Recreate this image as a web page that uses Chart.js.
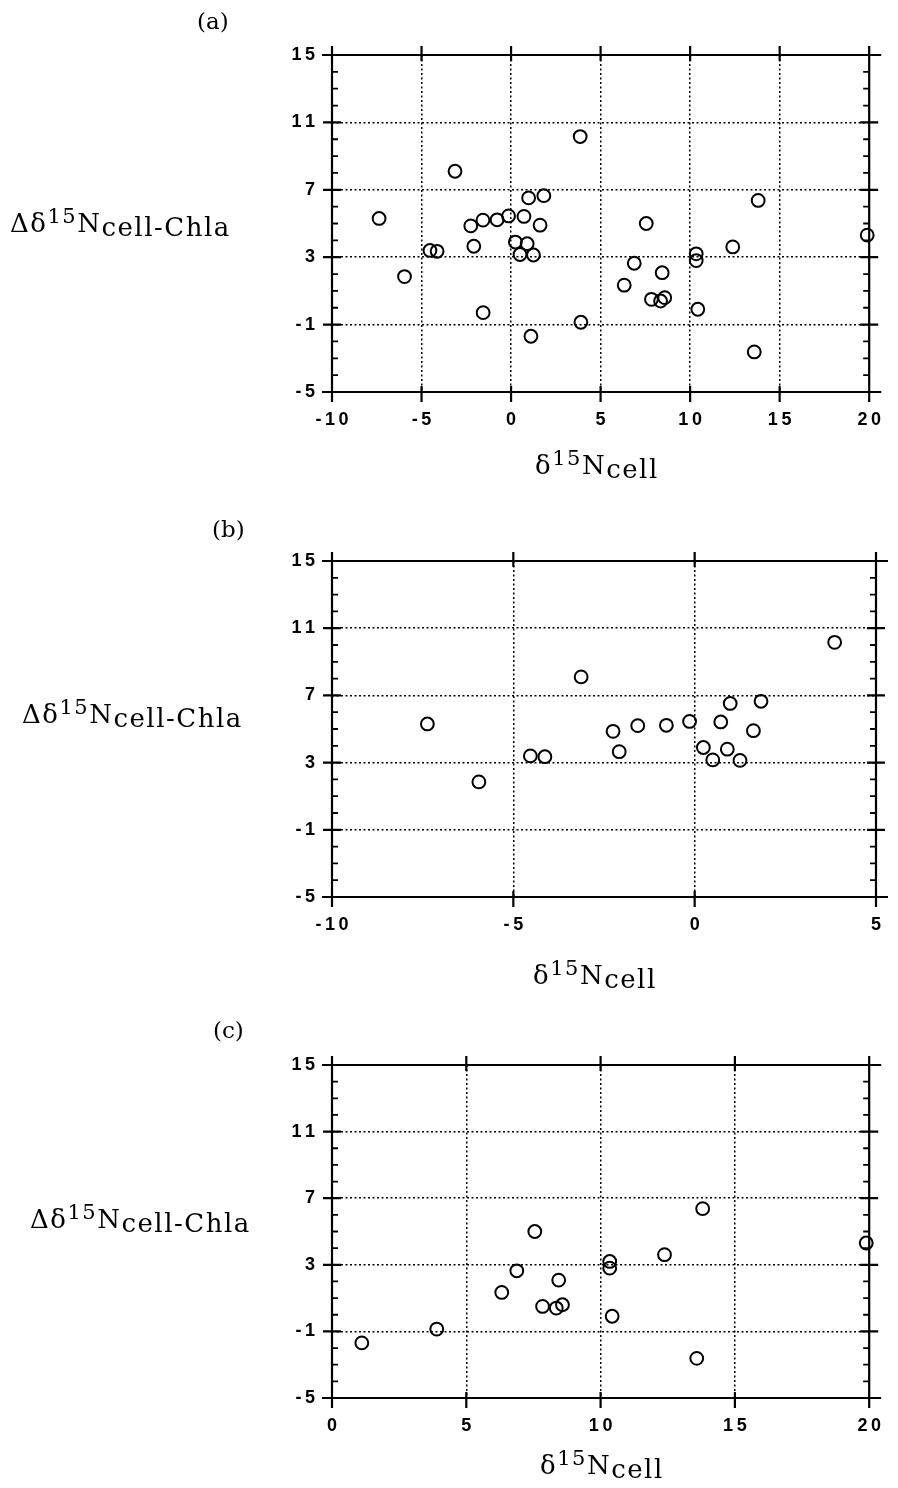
<!DOCTYPE html>
<html lang="en">
<head>
  <meta charset="UTF-8">
  <title>δ15N cell vs Δδ15N cell-Chla</title>
  <script src="https://cdn.jsdelivr.net/npm/chart.js"></script>
  <style>
    body { margin: 0; background: #fff; }
    #page { position: relative; width: 898px; height: 1488px; overflow: hidden; background: #fff; }
    #page canvas { position: absolute; left: 0; }
    .lbl { position: absolute; font-family: 'DejaVu Serif', serif; color: #000; white-space: nowrap; line-height: 1; }
    .panel { font-size: 23px; }
    .ttl { font-size: 26px; letter-spacing: 1.5px; }
    .ttl sup { font-size: 21px; vertical-align: 9px; line-height: 0; }
    .ttl sub { font-size: 26px; vertical-align: -4px; line-height: 0; }
  </style>
</head>
<body>
  <div id="page">
    <canvas id="chartA" width="898" height="480" style="top:0px"></canvas>
    <canvas id="chartB" width="898" height="480" style="top:506px"></canvas>
    <canvas id="chartC" width="898" height="480" style="top:1008px"></canvas>

    <div class="lbl panel" style="left:197px; top:10px">(a)</div>
    <div class="lbl panel" style="left:212px; top:518px">(b)</div>
    <div class="lbl panel" style="left:213px; top:1019px">(c)</div>

    <div class="lbl ttl" style="left:10px; top:210px">Δδ<sup>15</sup>N<sub>cell-Chla</sub></div>
    <div class="lbl ttl" style="left:22px; top:701px">Δδ<sup>15</sup>N<sub>cell-Chla</sub></div>
    <div class="lbl ttl" style="left:30px; top:1206px">Δδ<sup>15</sup>N<sub>cell-Chla</sub></div>

    <div class="lbl ttl" style="left:535px; top:452px">δ<sup>15</sup>N<sub>cell</sub></div>
    <div class="lbl ttl" style="left:533px; top:962px">δ<sup>15</sup>N<sub>cell</sub></div>
    <div class="lbl ttl" style="left:540px; top:1452px">δ<sup>15</sup>N<sub>cell</sub></div>
  </div>

  <script>
    // y axis shared by all three panels
    const yMin = -5;
    const yMax = 15;
    const yStep = 4;
    const xStep = 5;

    // panel (b) points (cells with negative / low δ15N)
    const bX = [-7.37, -5.95, -3.13, -4.53, -4.13, -2.25, -2.08, -1.57, -0.78, -0.14,
                0.24, 0.50, 0.72, 0.90, 0.98, 1.25, 1.62, 1.83, 3.86];
    const bY = [5.30, 1.85, 8.10, 3.40, 3.35, 4.86, 3.65, 5.20, 5.22, 5.45,
                3.90, 3.16, 5.42, 3.80, 6.52, 3.13, 4.90, 6.65, 10.16];

    // panel (c) points
    const cX = [1.11, 3.90, 7.55, 6.88, 6.32, 8.44, 7.84, 8.35, 8.58, 10.34,
                10.34, 10.43, 12.38, 13.80, 13.58, 19.89];
    const cY = [-1.69, -0.86, 5.00, 2.64, 1.34, 2.08, 0.50, 0.40, 0.60, 3.20,
                2.80, -0.09, 3.61, 6.37, -2.62, 4.31];

    // point only shown in panel (a)
    const onlyAX = [-1.56];
    const onlyAY = [-0.29];

    const aX = bX.concat(cX, onlyAX);
    const aY = bY.concat(cY, onlyAY);

    const toPoints = (xs, ys) => xs.map((x, i) => ({ x: x, y: ys[i] }));

    const panels = [
      { id: 'chartA', xs: aX, ys: aY, xMin: -10, xMax: 20, left: 332, right: 881, top: 55, bottom: 392 },
      { id: 'chartB', xs: bX, ys: bY, xMin: -10, xMax: 5,  left: 332, right: 880, top: 55, bottom: 391 },
      { id: 'chartC', xs: cX, ys: cY, xMin: 0,   xMax: 20, left: 332, right: 879, top: 57, bottom: 390 }
    ];

    // old typewriter look: digits spread apart, "- 1 0"
    const spaced = v => String(v).split('').join('\u2009');

    const framePlugin = {
      id: 'frame',
      afterDraw(chart) {
        const { ctx, chartArea, scales } = chart;
        const { left, right, top, bottom } = chartArea;
        const x = scales.x, y = scales.y;
        ctx.save();
        ctx.strokeStyle = '#000';
        ctx.lineWidth = 2.2;
        ctx.beginPath();
        ctx.moveTo(left - 10, top); ctx.lineTo(right + 12, top);
        ctx.moveTo(left - 10, bottom); ctx.lineTo(right + 12, bottom);
        ctx.moveTo(left, top - 9); ctx.lineTo(left, bottom + 10);
        ctx.moveTo(right, top - 9); ctx.lineTo(right, bottom + 10);
        y.ticks.forEach(t => {
          const py = y.getPixelForValue(t.value);
          ctx.moveTo(left - 9, py); ctx.lineTo(left + 9, py);
          ctx.moveTo(right - 9, py); ctx.lineTo(right + 9, py);
        });
        x.ticks.forEach(t => {
          const px = x.getPixelForValue(t.value);
          ctx.moveTo(px, bottom - 6); ctx.lineTo(px, bottom + 10);
          ctx.moveTo(px, top - 9); ctx.lineTo(px, top + 6);
        });
        ctx.stroke();

        // minor ticks every 1 unit on both vertical axes
        ctx.lineWidth = 1.8;
        ctx.beginPath();
        for (let v = y.min; v <= y.max; v += 1) {
          if ((v - y.min) % yStep === 0) continue;
          const py = y.getPixelForValue(v);
          ctx.moveTo(left, py); ctx.lineTo(left + 6, py);
          ctx.moveTo(right - 6, py); ctx.lineTo(right, py);
        }
        ctx.stroke();
        ctx.restore();
      }
    };

    function interiorOnly(min, max) {
      return c => (c.tick && (c.tick.value === min || c.tick.value === max)) ? 'rgba(0,0,0,0)' : '#000';
    }

    const tickFont = { family: 'Liberation Sans', size: 18, weight: 'bold' };

    panels.forEach(p => {
      const canvas = document.getElementById(p.id);
      const h = canvas.height;
      new Chart(canvas.getContext('2d'), {
        type: 'scatter',
        data: {
          datasets: [{
            data: toPoints(p.xs, p.ys),
            pointRadius: 6.4,
            pointBorderWidth: 2,
            pointBorderColor: '#000',
            pointBackgroundColor: 'rgba(0,0,0,0)',
            pointHoverRadius: 6.4,
            clip: false
          }]
        },
        options: {
          responsive: false,
          animation: false,
          devicePixelRatio: 1,
          layout: {
            padding: { left: 0, top: p.top, right: 898 - p.right, bottom: h - p.bottom - 50 }
          },
          plugins: { legend: { display: false }, tooltip: { enabled: false } },
          scales: {
            x: {
              type: 'linear',
              min: p.xMin,
              max: p.xMax,
              afterFit: s => { s.height = 50; },
              ticks: { stepSize: xStep, color: '#000', font: tickFont, padding: 17, maxRotation: 0, callback: spaced },
              grid: { color: interiorOnly(p.xMin, p.xMax), lineWidth: 1.5, drawTicks: false },
              border: { display: false, dash: [2, 2.5] }
            },
            y: {
              type: 'linear',
              min: yMin,
              max: yMax,
              afterFit: s => { s.width = p.left; },
              ticks: { stepSize: yStep, color: '#000', font: tickFont, padding: 17, callback: spaced },
              grid: { color: interiorOnly(yMin, yMax), lineWidth: 1.5, drawTicks: false },
              border: { display: false, dash: [2, 2.5] }
            }
          }
        },
        plugins: [framePlugin]
      });
    });
  </script>
</body>
</html>
